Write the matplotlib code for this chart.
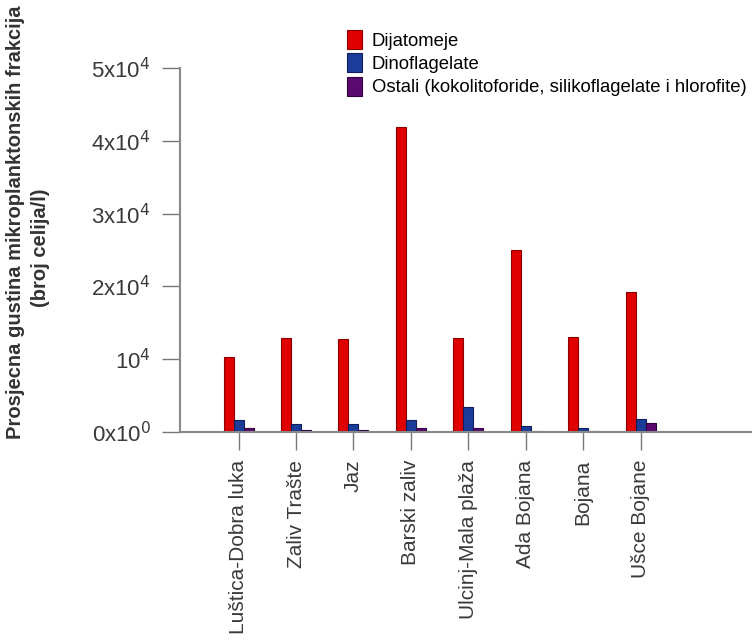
import numpy as np
import matplotlib
matplotlib.use("Agg")
import matplotlib.pyplot as plt
from matplotlib import font_manager

# Data (cells per litre)
stations = ["Luštica-Dobra luka", "Zaliv Trašte", "Jaz", "Barski zaliv",
            "Ulcinj-Mala plaža", "Ada Bojana", "Bojana", "Ušce Bojane"]
dijatomeje = [10300, 12950, 12800, 41900, 12950, 25000, 13100, 19200]
dinoflagelate = [1600, 1050, 1150, 1700, 3500, 820, 600, 1750]
ostali = [600, 320, 270, 550, 550, 80, 80, 1200]

series_names = ["Dijatomeje", "Dinoflagelate",
                "Ostali (kokolitoforide, silikoflagelate i hlorofite)"]
ytick_vals = [0, 10000, 20000, 30000, 40000, 50000]
ytick_labels = ["0x10$^0$", "10$^4$", "2x10$^4$", "3x10$^4$", "4x10$^4$", "5x10$^4$"]

names = {f.name for f in font_manager.fontManager.ttflist}
base_font = "Liberation Sans" if "Liberation Sans" in names else "DejaVu Sans"
plt.rcParams["font.family"] = [base_font, "DejaVu Sans"]

fig = plt.figure(figsize=(7.52, 6.44), dpi=100)
ax = fig.add_axes([180/752, 1 - 432/644, 572/752, 364/644])

x = np.arange(len(stations))
w = 0.174
ax.bar(x - w, dijatomeje, w, color="#e00000", edgecolor="#8a0000", linewidth=0.8,
       label=series_names[0])
ax.bar(x, dinoflagelate, w, color="#1c3c9a", edgecolor="#0d1f5c", linewidth=0.8,
       label=series_names[1])
ax.bar(x + w, ostali, w, color="#5a0a6e", edgecolor="#300040", linewidth=0.8,
       label=series_names[2])

ax.set_xlim(-1.02, 8.94)
ax.set_ylim(0, 50000)
ax.set_yticks(ytick_vals)
ax.set_yticklabels(ytick_labels)
ax.set_xticks(x)
ax.set_xticklabels(stations, rotation=90)

for s in ["top", "right"]:
    ax.spines[s].set_visible(False)
for s in ["left", "bottom"]:
    ax.spines[s].set_color("#888888")
    ax.spines[s].set_linewidth(1.5)

ax.tick_params(axis="both", direction="out", length=13, width=1, color="#777777",
               labelcolor="#3a3a3a", labelsize=15)
ax.tick_params(axis="y", pad=8, labelsize=16)
ax.tick_params(axis="x", pad=7)

fig.text(16/752, 1 - 222/644, "Prosjecna gustina mikroplanktonskih frakcija",
         rotation=90, ha="center", va="center", fontsize=14.5, fontweight="bold",
         color="#333333")
fig.text(41/752, 1 - 248/644, "(broj celija/l)", rotation=90, ha="center",
         va="center", fontsize=14.5, fontweight="bold", color="#333333")

ax.legend(loc="upper left", bbox_to_anchor=(347/752, 1 - 30/644),
          bbox_transform=fig.transFigure, frameon=False, borderpad=0,
          borderaxespad=0, handlelength=0.83, handleheight=1.2,
          handletextpad=0.5, labelspacing=0.2,
          prop={"size": 13.3})

fig.savefig("out.png", dpi=100)
